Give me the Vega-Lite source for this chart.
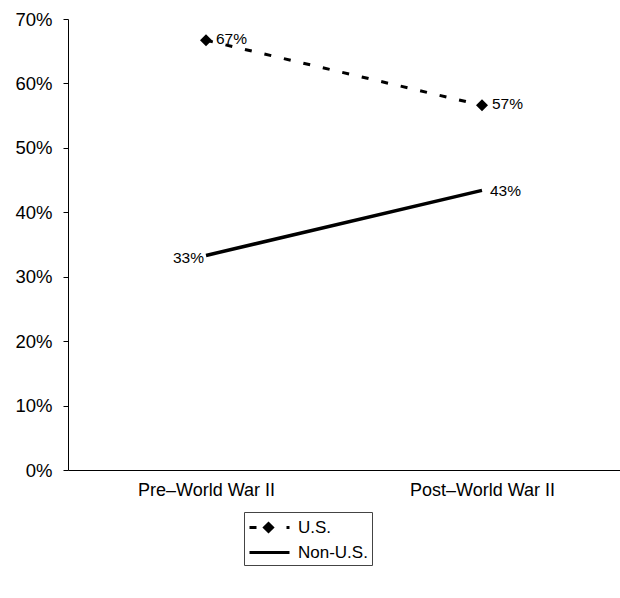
{
  "$schema": "https://vega.github.io/schema/vega-lite/v6.json",
  "width": 552,
  "height": 451,
  "autosize": {"type": "none"},
  "padding": {"left": 68, "top": 19, "right": 0, "bottom": 128},
  "background": "white",
  "config": {
    "view": {"stroke": null},
    "font": "Liberation Sans",
    "axis": {"domainColor": "black", "domainWidth": 1, "tickColor": "black", "labelColor": "black", "labelFont": "Liberation Sans", "grid": false}
  },
  "data": {
    "values": [
      {"period": "Pre–World War II", "series": "U.S.", "share": 0.667},
      {"period": "Post–World War II", "series": "U.S.", "share": 0.566},
      {"period": "Pre–World War II", "series": "Non-U.S.", "share": 0.333},
      {"period": "Post–World War II", "series": "Non-U.S.", "share": 0.434}
    ]
  },
  "encoding": {
    "x": {
      "field": "period",
      "type": "nominal",
      "sort": ["Pre–World War II", "Post–World War II"],
      "scale": {"type": "point", "padding": 0.5},
      "axis": {"title": null, "labelAngle": 0, "ticks": false, "tickSize": 0, "labelPadding": 11, "labelFontSize": 18}
    },
    "y": {
      "field": "share",
      "type": "quantitative",
      "scale": {"domain": [0, 0.7]},
      "axis": {"title": null, "values": [0, 0.1, 0.2, 0.3, 0.4, 0.5, 0.6, 0.7], "format": ".0%", "tickSize": 5, "labelPadding": 11, "labelFontSize": 18.5}
    }
  },
  "layer": [
    {
      "transform": [{"filter": "datum.series === 'U.S.'"}],
      "mark": {"type": "line", "color": "black", "strokeWidth": 3, "strokeDash": [7, 13]}
    },
    {
      "transform": [{"filter": "datum.series === 'Non-U.S.'"}],
      "mark": {"type": "line", "color": "black", "strokeWidth": 3.5}
    },
    {
      "transform": [{"filter": "datum.series === 'U.S.'"}],
      "mark": {"type": "point", "shape": "diamond", "filled": true, "color": "black", "size": 144, "opacity": 1}
    },
    {
      "transform": [{"filter": "datum.series === 'U.S.'"}],
      "mark": {"type": "text", "align": "left", "baseline": "middle", "dx": 10, "dy": -1, "fontSize": 15.5, "color": "black"},
      "encoding": {"text": {"field": "share", "type": "quantitative", "format": ".0%"}}
    },
    {
      "transform": [{"filter": "datum.series === 'Non-U.S.' && datum.period === 'Post–World War II'"}],
      "mark": {"type": "text", "align": "left", "baseline": "middle", "dx": 8, "dy": 1, "fontSize": 15.5, "color": "black"},
      "encoding": {"text": {"field": "share", "type": "quantitative", "format": ".0%"}}
    },
    {
      "transform": [{"filter": "datum.series === 'Non-U.S.' && datum.period === 'Pre–World War II'"}],
      "mark": {"type": "text", "align": "right", "baseline": "middle", "dx": -2, "dy": 3, "fontSize": 15.5, "color": "black"},
      "encoding": {"text": {"field": "share", "type": "quantitative", "format": ".0%"}}
    },
    {
      "mark": {"type": "point", "opacity": 0, "filled": true, "color": "black", "stroke": "black", "strokeWidth": 3},
      "encoding": {
        "shape": {
          "field": "series",
          "type": "nominal",
          "scale": {
            "domain": ["U.S.", "Non-U.S."],
            "range": ["M0.9,-0.4L1.3,0L0.9,0.4L0.5,0ZM-1,0L-0.3,0M2.7,0L3,0", "M-1,0L3,0"]
          },
          "legend": {
            "title": null,
            "orient": "none",
            "legendX": 176,
            "legendY": 493,
            "padding": 4,
            "strokeColor": "#444",
            "fillColor": "white",
            "symbolSize": 400,
            "labelOffset": 27,
            "labelFontSize": 17,
            "labelFont": "Liberation Sans",
            "labelColor": "black",
            "rowPadding": 3,
            "symbolStrokeWidth": 3,
            "encode": {
              "symbols": {
                "update": {
                  "opacity": {"value": 1},
                  "fill": {"value": "black"},
                  "stroke": {"value": "black"},
                  "strokeWidth": {"value": 3}
                }
              }
            }
          }
        }
      }
    }
  ]
}
